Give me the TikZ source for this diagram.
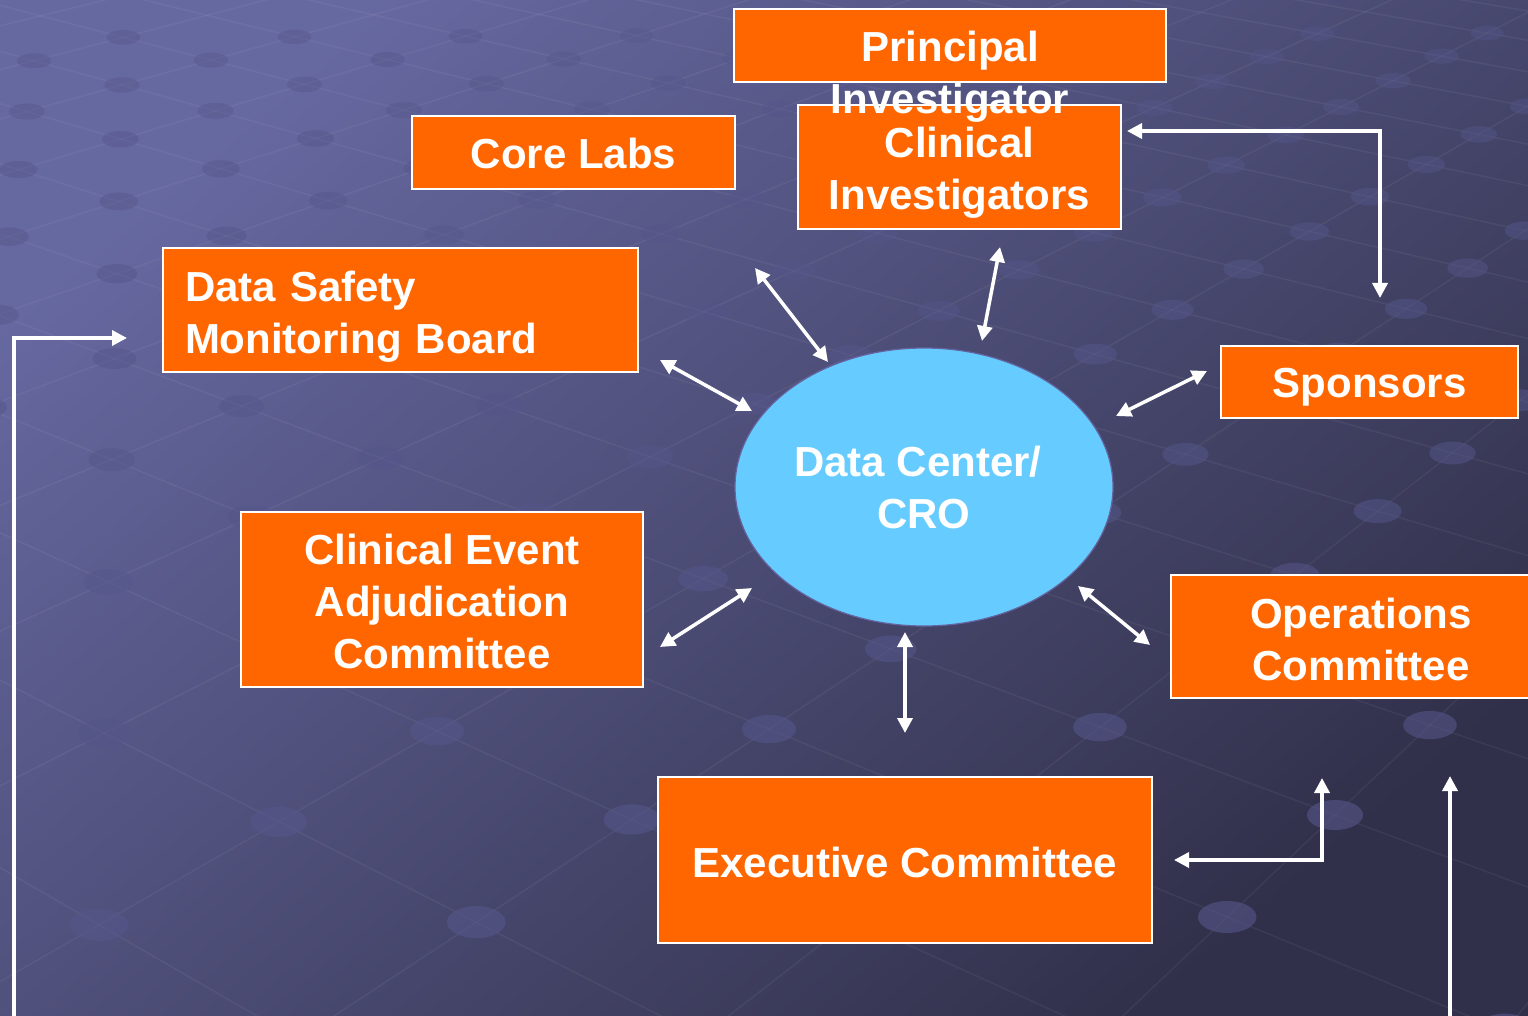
\documentclass[tikz,border=0pt]{standalone}
\usepackage{fontspec}
\setmainfont{Liberation Sans}
\usetikzlibrary{shapes.geometric,arrows.meta}

\definecolor{bgtop}{HTML}{6668A0}
\definecolor{bgbot}{HTML}{31304A}
\definecolor{boxfill}{HTML}{FF6600}
\definecolor{hubfill}{HTML}{66CCFF}
\definecolor{hubline}{HTML}{6464A0}
\definecolor{dotc}{HTML}{55568A}

\tikzset{
  orgbox/.style={draw=white, line width=1.6pt, fill=boxfill, inner sep=0pt},
  hub/.style={ellipse, draw=hubline, line width=1.2pt, fill=hubfill, text=white,
    font=\fontsize{42}{52}\selectfont\bfseries, align=center, inner sep=0pt},
  lbl/.style={text=white, font=\fontsize{42}{52}\selectfont\bfseries, align=center, inner sep=0pt},
  link/.style={draw=white, line width=3.5pt,
    {Triangle[length=15pt,width=15pt]}-{Triangle[length=15pt,width=15pt]}},
  feed/.style={draw=white, line width=3.5pt, -{Triangle[length=15pt,width=15pt]}},
}
% ground-plane projection of lattice point (u,v)
\newcommand\latden[2]{(1+0.0616*(#1)+0.0631*(#2))}
\newcommand\latx[2]{((0.0616*(#1)*(-2716)+0.0631*(#2)*2935+1335)/\latden{#1}{#2})}
\newcommand\laty[2]{((0.0616*(#1)*(-700)+0.0631*(#2)*(-700)+815)/\latden{#1}{#2})}

\begin{document}
\begin{tikzpicture}[x=1pt,y=-1pt]
\useasboundingbox (0,0) rectangle (1528,1016);

% backdrop: diagonal gradient with a receding lattice of dots
\begin{scope}
\clip (0,0) rectangle (1528,1016);
\shade[top color=bgtop, bottom color=bgbot, shading angle=40] (-10,-10) rectangle (1538,1026);
\foreach \u in {-4,...,20}{
  \draw[white, opacity=0.05, line width=1.5pt]
    ({\latx{\u}{-5}},{\laty{\u}{-5}}) -- ({\latx{\u}{18}},{\laty{\u}{18}});
}
\foreach \v in {-5,...,18}{
  \draw[white, opacity=0.05, line width=1.5pt]
    ({\latx{-4}{\v}},{\laty{-4}{\v}}) -- ({\latx{20}{\v}},{\laty{20}{\v}});
}
\foreach \u in {-4,...,20}{
  \foreach \v in {-5,...,18}{
    \pgfmathsetmacro\dd{\latden{\u}{\v}}
    \ifdim \dd pt>0.4pt
      \pgfmathsetmacro\px{\latx{\u}{\v}}
      \pgfmathsetmacro\py{\laty{\u}{\v}}
      \ifdim \py pt>30pt
        \pgfmathsetmacro\rx{28/(\dd^0.7)}
        \pgfmathsetmacro\ry{15/\dd}
        \pgfmathsetmacro\op{min(0.6,0.6/sqrt(\dd))}
        \fill[dotc, opacity=\op] (\px,\py) ellipse [x radius=\rx pt, y radius=\ry pt];
      \fi
    \fi
  }
}
\end{scope}

% central hub
\node[hub, minimum width=378pt, minimum height=278pt] (dc) at (924,487)
  {Data Center/\kern12pt\\CRO};

% surrounding committees
\node[orgbox, minimum width=323pt, minimum height=124pt,
      label={[lbl, yshift=-6pt]center:{Clinical\\Investigators}}] (ci) at (959.5,167) {};
\node[orgbox, minimum width=432pt, minimum height=73pt] (pi) at (950,45.5) {};
\node[lbl] (pitext) at (950,77) {Principal\\Investigator};
\node[orgbox, minimum width=323pt, minimum height=73pt,
      label={[lbl, yshift=-1pt]center:{Core Labs}}] (core) at (573.5,152.5) {};
\node[orgbox, minimum width=475pt, minimum height=124pt,
      label={[lbl, text width=431pt, align=left, yshift=-7pt]center:{Data Safety\\Monitoring Board}}]
      (dsmb) at (400.5,310) {};
\node[orgbox, minimum width=297pt, minimum height=72pt,
      label={[lbl, yshift=-5pt]center:{Sponsors}}] (sp) at (1369.5,382) {};
\node[orgbox, minimum width=402pt, minimum height=175pt,
      label={[lbl, yshift=-2pt]center:{Clinical Event\\Adjudication\\Committee}}] (ceac) at (442,599.5) {};
\node[orgbox, minimum width=380pt, minimum height=123pt,
      label={[lbl, yshift=-3pt]center:{Operations\\Committee}}] (ops) at (1361,636.5) {};
\node[orgbox, minimum width=494pt, minimum height=166pt,
      label={[lbl, yshift=-2pt]center:{Executive Committee}}] (exec) at (905,860) {};

% arrow end points around the hub
\coordinate (coreA) at (755,268);   \coordinate (coreB) at (828,362);
\coordinate (ciA)   at (1000,247);  \coordinate (ciB)   at (982,341);
\coordinate (dsA)   at (660,360);   \coordinate (dsB)   at (752,411);
\coordinate (spA)   at (1207,371);  \coordinate (spB)   at (1116,416);
\coordinate (ceA)   at (660,647);   \coordinate (ceB)   at (752,588);
\coordinate (opA)   at (1150,645);  \coordinate (opB)   at (1078,586);
\coordinate (exA)   at (905,733);   \coordinate (exB)   at (905,632);

\draw[link] (coreA) -- (coreB);
\draw[link] (ciA) -- (ciB);
\draw[link] (dsA) -- (dsB);
\draw[link] (spA) -- (spB);
\draw[link] (ceA) -- (ceB);
\draw[link] (opA) -- (opB);
\draw[link] (exA) -- (exB);

% elbow links
\coordinate (ciR) at (1127,131);  \coordinate (spT) at (1380,298);
\draw[link] (ciR) -- (1380,131) -- (spT);
\coordinate (exR) at (1174,860);  \coordinate (opL) at (1322,778);
\draw[link] (exR) -- (1322,860) -- (opL);

% feeds entering from the lower edge
\coordinate (leftIn) at (14,1030); \coordinate (dsL) at (127,338);
\draw[feed] (leftIn) -- (14,338) -- (dsL);
\coordinate (rightIn) at (1450,1030); \coordinate (opB2) at (1450,776);
\draw[feed] (rightIn) -- (opB2);
\end{tikzpicture}
\end{document}
